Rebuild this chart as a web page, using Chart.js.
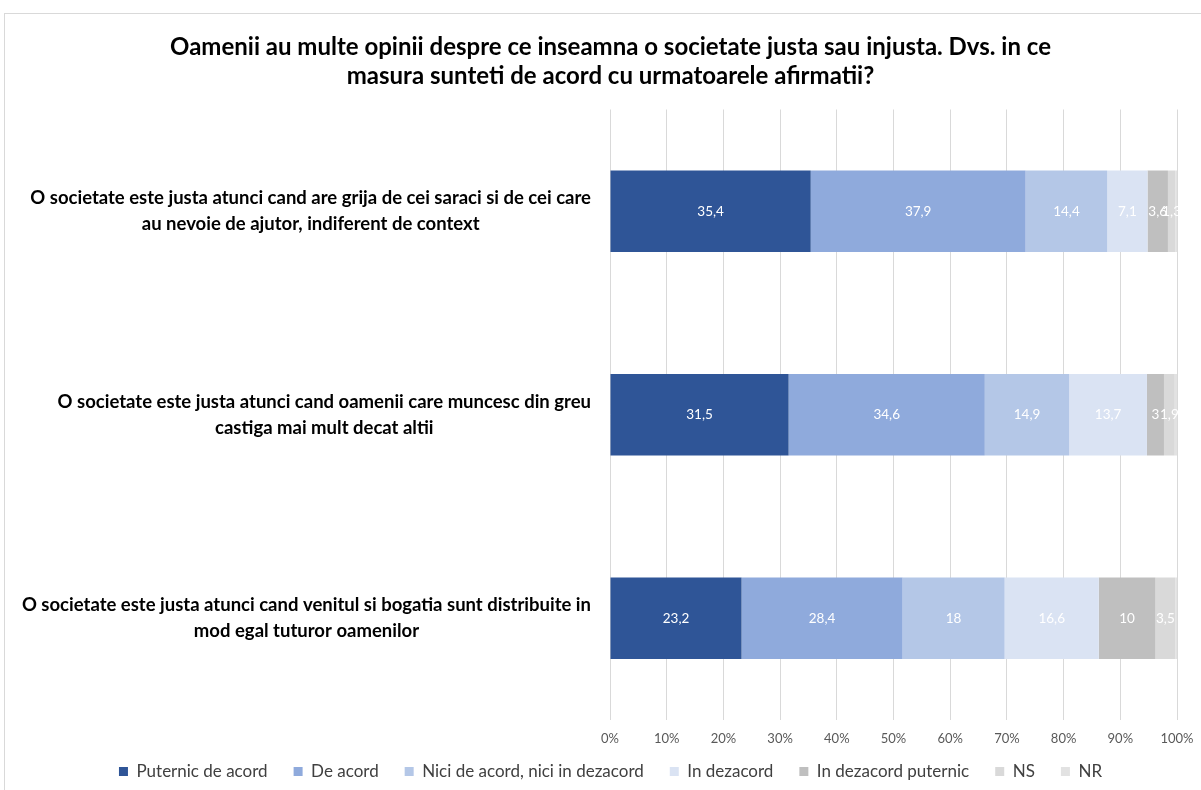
<!DOCTYPE html>
<html>
<head>
<meta charset="utf-8">
<script src="https://cdn.jsdelivr.net/npm/chart.js@4.4.1/dist/chart.umd.min.js"></script>
<style>
  html, body { margin: 0; padding: 0; background: #fff; }
  #wrap { position: relative; width: 1201px; height: 790px; }
  #frame { position: absolute; left: 4px; top: 13px; width: 1300px; height: 900px; border: 1px solid #D9D9D9; box-sizing: border-box; }
  canvas { position: absolute; left: 0; top: 0; }
</style>
</head>
<body>
<div id="wrap">
  <div id="frame"></div>
  <canvas id="c" width="1201" height="790"></canvas>
</div>
<script>
const FONT = "Lato, 'Open Sans', sans-serif";

const categories = [
  ["O societate este justa atunci cand are grija de cei saraci si de cei care", "au nevoie de ajutor, indiferent de context"],
  ["O societate este justa atunci cand oamenii care muncesc din greu", "castiga mai mult decat altii"],
  ["O societate este justa atunci cand venitul si bogatia sunt distribuite in", "mod egal tuturor oamenilor"]
];
const seriesNames = ["Puternic de acord", "De acord", "Nici de acord, nici in dezacord", "In dezacord", "In dezacord puternic", "NS", "NR"];
const puternicDeAcord = [35.4, 31.5, 23.2];
const deAcord = [37.9, 34.6, 28.4];
const niciNici = [14.4, 14.9, 18];
const inDezacord = [7.1, 13.7, 16.6];
const inDezacordPuternic = [3.6, 3, 10];
const nsValues = [1.3, 1.9, 3.5];
const nrValues = [0.3, 0.4, 0.3];
const xTickValues = [0, 10, 20, 30, 40, 50, 60, 70, 80, 90, 100];
const titleLines = ["Oamenii au multe opinii despre ce inseamna o societate justa sau injusta. Dvs. in ce", "masura sunteti de acord cu urmatoarele afirmatii?"];

const colors = ["#2F5597", "#8FAADC", "#B4C7E7", "#DAE3F3", "#BFBFBF", "#D9D9D9", "#E2E2E2"];
const allSeries = [puternicDeAcord, deAcord, niciNici, inDezacord, inDezacordPuternic, nsValues, nrValues];

const datasets = allSeries.map((d, i) => ({
  label: seriesNames[i],
  data: d,
  backgroundColor: colors[i],
  borderWidth: 0,
  showValueLabel: i < 6
}));

const categoryLabelPlugin = {
  id: 'categoryLabels',
  afterDraw(chart) {
    const ctx = chart.ctx;
    const ys = chart.scales.y;
    const rightEdge = chart.chartArea.left - 19;
    ctx.save();
    ctx.font = "bold 18.5px " + FONT;
    ctx.fillStyle = "#000000";
    ctx.textAlign = "center";
    ctx.textBaseline = "middle";
    const lh = 26;
    categories.forEach((lines, i) => {
      const yc = ys.getPixelForValue(i);
      const maxW = Math.max(...lines.map(l => ctx.measureText(l).width));
      const cx = rightEdge - maxW / 2;
      const y0 = yc - (lines.length - 1) * lh / 2;
      lines.forEach((l, j) => ctx.fillText(l, cx, y0 + j * lh));
    });
    ctx.restore();
  }
};

const valueLabelPlugin = {
  id: 'valueLabels',
  afterDatasetsDraw(chart) {
    const ctx = chart.ctx;
    ctx.save();
    ctx.font = "13.5px " + FONT;
    ctx.fillStyle = "#FFFFFF";
    ctx.textAlign = "center";
    ctx.textBaseline = "middle";
    chart.data.datasets.forEach((ds, di) => {
      if (!ds.showValueLabel) return;
      const meta = chart.getDatasetMeta(di);
      meta.data.forEach((bar, i) => {
        const v = ds.data[i];
        const p = bar.getProps(['x', 'y', 'base'], true);
        const cx = (p.x + p.base) / 2;
        ctx.fillText(String(v).replace('.', ','), cx, p.y);
      });
    });
    ctx.restore();
  }
};

new Chart(document.getElementById('c'), {
  type: 'bar',
  data: { labels: categories.map(c => c.join(' ')), datasets },
  options: {
    indexAxis: 'y',
    responsive: false,
    animation: false,
    devicePixelRatio: 1,
    layout: { padding: { left: 20, right: 0, top: 0, bottom: 0 } },
    datasets: { bar: { categoryPercentage: 1, barPercentage: 0.4 } },
    scales: {
      x: {
        stacked: true,
        min: 0, max: 100,
        afterBuildTicks: s => { s.ticks = xTickValues.map(v => ({ value: v })); },
        afterFit: s => { s.height = 17; s.paddingLeft = 0; s.paddingRight = 0; s._computeLabelArea = () => undefined; },
        ticks: { callback: v => v + '%', color: '#595959', font: { family: FONT, size: 13 }, padding: 11, maxRotation: 0 },
        grid: { color: '#D9D9D9', lineWidth: 1, drawTicks: false },
        border: { display: false }
      },
      y: {
        stacked: true,
        afterFit: s => { s.width = 590; },
        ticks: { display: false },
        grid: { display: false },
        border: { display: false }
      },
      yRightSpace: {
        type: 'linear',
        position: 'right',
        display: true,
        afterFit: s => { s.width = 24; },
        ticks: { display: false },
        grid: { display: false },
        border: { display: false }
      }
    },
    plugins: {
      title: {
        display: true,
        text: titleLines,
        color: '#000000',
        font: { family: FONT, size: 24, weight: 'bold', lineHeight: 29 / 24 },
        padding: { top: 32.5, bottom: 19 }
      },
      legend: {
        position: 'bottom',
        maxHeight: 54.5,
        labels: {
          color: '#404040',
          font: { family: FONT, size: 17 },
          boxWidth: 9, boxHeight: 9,
          padding: 26
        }
      },
      tooltip: { enabled: false }
    }
  },
  plugins: [categoryLabelPlugin, valueLabelPlugin]
});
</script>
</body>
</html>
